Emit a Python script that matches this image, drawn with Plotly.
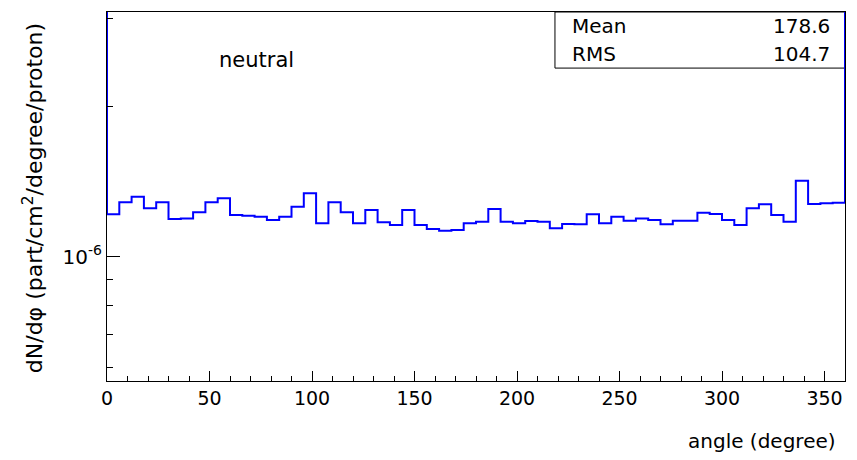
import plotly.graph_objects as go

# ---- data ----
bin_width = 6.0
bin_edges = [i * bin_width for i in range(61)]
counts = [
    1.216e-6, 1.285e-6, 1.318e-6, 1.250e-6, 1.285e-6, 1.190e-6, 1.193e-6, 1.227e-6, 1.285e-6, 1.309e-6,
    1.212e-6, 1.208e-6, 1.202e-6, 1.184e-6, 1.202e-6, 1.259e-6, 1.339e-6, 1.166e-6, 1.285e-6, 1.227e-6,
    1.166e-6, 1.240e-6, 1.172e-6, 1.157e-6, 1.240e-6, 1.157e-6, 1.136e-6, 1.127e-6, 1.131e-6, 1.166e-6,
    1.175e-6, 1.246e-6, 1.175e-6, 1.166e-6, 1.179e-6, 1.175e-6, 1.140e-6, 1.163e-6, 1.161e-6, 1.216e-6,
    1.166e-6, 1.202e-6, 1.180e-6, 1.193e-6, 1.184e-6, 1.161e-6, 1.180e-6, 1.180e-6, 1.225e-6, 1.217e-6,
    1.184e-6, 1.157e-6, 1.250e-6, 1.273e-6, 1.212e-6, 1.175e-6, 1.419e-6, 1.275e-6, 1.279e-6, 1.282e-6,
]
edge_level = 1e-5  # outer edges of the histogram run off the top of the frame
x_ticks = [0, 50, 100, 150, 200, 250, 300, 350]
y_ticks = [1e-6]
y_ticktext = ["10<sup>-6</sup>"]
y_minor = [6e-7, 7e-7, 8e-7, 9e-7, 2e-6, 3e-6]
stats_labels = ["Mean", "RMS"]
stats_values = ["178.6", "104.7"]

FONT = "DejaVu Sans"

xs = [bin_edges[0]] + bin_edges[:-1] + [bin_edges[-1], bin_edges[-1]]
ys = [edge_level] + counts + [counts[-1], edge_level]

fig = go.Figure()
fig.add_trace(go.Scatter(
    x=xs, y=ys, mode="lines", line=dict(color="#0000ff", width=2, shape="hv"),
    hoverinfo="skip", showlegend=False,
))

fig.update_layout(
    width=857, height=460,
    margin=dict(l=107, r=12, t=12, b=79),
    paper_bgcolor="white", plot_bgcolor="white",
    font=dict(family=FONT, size=19, color="black"),
    showlegend=False,
)
fig.update_xaxes(
    range=[0, 360], showgrid=False, zeroline=False,
    showline=True, linecolor="black", linewidth=1, mirror=True,
    tickmode="array", tickvals=x_ticks, ticks="inside", ticklen=10, tickcolor="black",
    tickfont=dict(family=FONT, size=19),
    minor=dict(ticks="inside", dtick=10, ticklen=5, tickcolor="black", showgrid=False),
)
fig.update_yaxes(
    type="log", range=[-6.2486, -5.5106], showgrid=False, zeroline=False,
    showline=True, linecolor="black", linewidth=1, mirror=True,
    tickmode="array", tickvals=y_ticks, ticktext=y_ticktext,
    ticks="inside", ticklen=13, tickcolor="black",
    tickfont=dict(family=FONT, size=20),
    minor=dict(ticks="inside", tickmode="array", tickvals=y_minor, ticklen=6,
               tickcolor="black", showgrid=False),
)

# stats box
fig.add_shape(type="rect", xref="paper", yref="paper", x0=0.607, x1=1.0, y0=0.848, y1=1.0,
              line=dict(color="black", width=1), fillcolor="white", layer="below")
for lab, val, yy in zip(stats_labels, stats_values, [0.962, 0.886]):
    fig.add_annotation(xref="paper", yref="paper", x=0.627, y=yy, text=lab, showarrow=False,
                       xanchor="left", yanchor="middle", font=dict(family=FONT, size=20))
    fig.add_annotation(xref="paper", yref="paper", x=0.983, y=yy, text=val, showarrow=False,
                       xanchor="right", yanchor="middle", font=dict(family=FONT, size=20))

# labels
fig.add_annotation(xref="paper", yref="paper", x=0.203, y=0.87, text="neutral", showarrow=False,
                   xanchor="center", yanchor="middle", font=dict(family=FONT, size=21))
fig.add_annotation(xref="paper", yref="paper", x=0.9905, y=-0.1626, text="angle (degree)",
                   showarrow=False, xanchor="right", yanchor="middle", font=dict(family=FONT, size=20))
fig.add_annotation(xref="paper", yref="paper", x=-0.1, y=0.496,
                   text="dN/dφ (part/cm<sup>2</sup>/degree/proton)", textangle=-90,
                   showarrow=False, xanchor="center", yanchor="middle", font=dict(family=FONT, size=22))

fig.write_html("out.html")
